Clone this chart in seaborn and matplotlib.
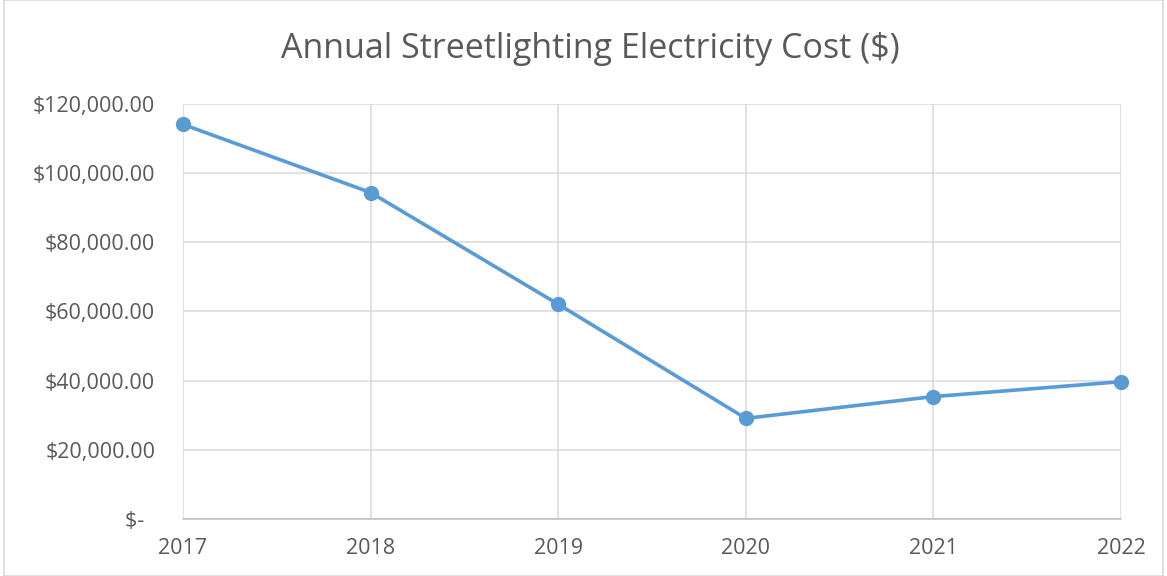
import matplotlib
matplotlib.use("Agg")
import matplotlib.pyplot as plt
import matplotlib.ticker as mticker
import seaborn as sns
import pandas as pd

years = [2017, 2018, 2019, 2020, 2021, 2022]
costs = [114100, 94400, 62100, 29100, 35400, 39700]
title = "Annual Streetlighting Electricity Cost ($)"

sns.set_theme(style="white")
plt.rcParams['font.family'] = ['Open Sans', 'DejaVu Sans']

df = pd.DataFrame({"Year": years, "Cost": costs})

fig = plt.figure(figsize=(11.67, 5.76), dpi=100)
ax = fig.add_axes([183/1167, 57/576, (1121-183)/1167, (519-104)/576])

sns.lineplot(data=df, x="Year", y="Cost", ax=ax, color="#5B9BD5", linewidth=2.6,
             marker="o", markersize=11, markeredgewidth=0, zorder=3, clip_on=False)

ax.set_xlim(years[0], years[-1])
ax.set_ylim(0, 120000)
ax.set_xticks(years)
ax.set_xticklabels([str(y) for y in years])
ax.set_yticks(range(0, 120001, 20000))

def fmt(v, pos):
    if v == 0:
        return "$-  "
    return "${:,.2f}".format(v)

ax.yaxis.set_major_formatter(mticker.FuncFormatter(fmt))
ax.grid(True, color="#D9D9D9", linewidth=1.1)
ax.set_axisbelow(True)
for s in ["top", "right", "left"]:
    ax.spines[s].set_visible(False)
ax.spines["bottom"].set_color("#BFBFBF")
ax.spines["bottom"].set_linewidth(1.1)
ax.tick_params(axis="both", length=0, labelsize=15.5, colors="#595959")
ax.tick_params(axis="y", pad=20)
ax.tick_params(axis="x", pad=14)
ax.set_xlabel("")
ax.set_ylabel("")

fig.text(590/1167, 1 - 49/576, title, ha="center", va="center", fontsize=24.5, color="#595959")

border = plt.Rectangle((4/1167, 0), 1 - 8/1167, 1, transform=fig.transFigure,
                       fill=False, edgecolor="#D9D9D9", linewidth=1.2)
fig.patches.append(border)

fig.savefig("out.png", dpi=100, facecolor="white")
